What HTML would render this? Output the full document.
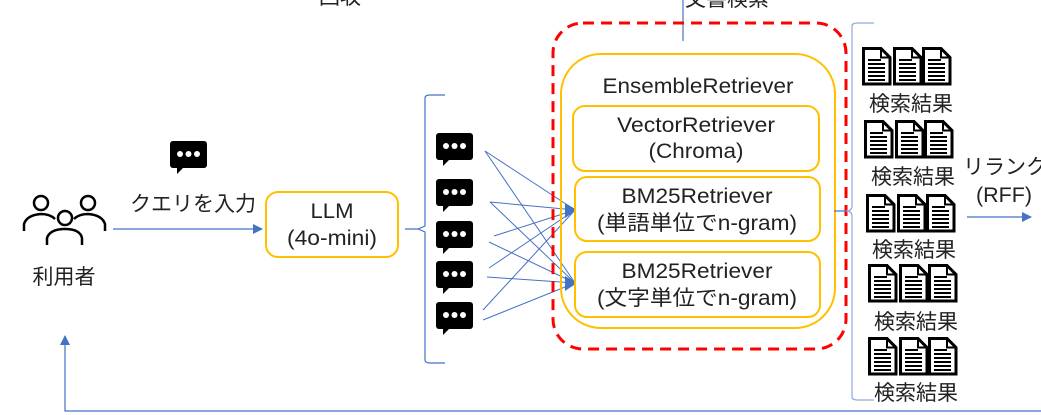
<!DOCTYPE html>
<html><head><meta charset="utf-8"><style>
html,body{margin:0;padding:0;background:#fff;}
svg{display:block;}
text{font-family:"Liberation Sans","Noto Sans CJK JP",sans-serif;fill:#222;}
</style></head><body>
<svg width="1041" height="415" viewBox="0 0 1041 415" xmlns="http://www.w3.org/2000/svg">
<defs>
<g id="chat">
<rect x="0" y="0" width="37" height="27" rx="3" fill="#000"/>
<polygon points="7,26 14,26 7,33" fill="#000"/>
<circle cx="10" cy="13" r="3" fill="#fff"/><circle cx="18.5" cy="13" r="3" fill="#fff"/><circle cx="27" cy="13" r="3" fill="#fff"/>
</g>
<g id="page">
<path d="M1.5,1.5 H19 L28,10.5 V37 H1.5 Z" fill="#fff" stroke="#000" stroke-width="3"/>
<path d="M19,1.5 V10.5 H28" fill="none" stroke="#000" stroke-width="2"/>
<path d="M6,13h13M6,17h17M6,21h17M6,25h17M6,29h17M6,33h17" stroke="#000" stroke-width="2"/>
</g>
<g id="docs"><use href="#page" x="0"/><use href="#page" x="31"/><use href="#page" x="60"/></g>
<marker id="ah" markerWidth="10" markerHeight="10" refX="9" refY="5" orient="auto" markerUnits="userSpaceOnUse"><polygon points="0,0 10,5 0,10" fill="#4472C4"/></marker>
</defs>

<text x="340" y="4" font-size="21" text-anchor="middle">回収</text>
<text x="727" y="6" font-size="21" text-anchor="middle">文書検索</text>
<line x1="683" y1="0" x2="683" y2="41" stroke="#4472C4" stroke-width="1.2"/>

<g fill="none" stroke="#000" stroke-width="2.5">
<circle cx="41" cy="203" r="7"/><circle cx="88" cy="203" r="7"/><circle cx="65" cy="218" r="7"/>
<path d="M24,231 V224 Q27,215 41,214 Q50,214 55,219"/>
<path d="M105,231 V224 Q102,215 88,214 Q79,214 74,219"/>
<path d="M47,245 V238 Q50,229 65,229 Q80,229 82,238 V245"/>
</g>
<text x="64" y="284" font-size="21" text-anchor="middle">利用者</text>

<use href="#chat" x="170" y="141"/>
<text x="193" y="211" font-size="21" text-anchor="middle">クエリを入力</text>
<line x1="113" y1="229" x2="262" y2="229" stroke="#4472C4" stroke-width="1.2" marker-end="url(#ah)"/>

<rect x="266" y="192" width="132" height="65" rx="12" fill="#fff" stroke="#FFC000" stroke-width="2"/>
<text x="332" y="218" font-size="21" text-anchor="middle" textLength="43" lengthAdjust="spacingAndGlyphs">LLM</text>
<text x="332" y="245" font-size="21" text-anchor="middle" textLength="90" lengthAdjust="spacingAndGlyphs">(4o-mini)</text>

<path d="M405,229 H418 L425,226 V98 Q425,95 430,95 H445 M418,229 L425,232 V360 Q425,363 430,363 H445" fill="none" stroke="#4472C4" stroke-width="1.2"/>

<use href="#chat" x="436" y="133"/>
<use href="#chat" x="436" y="179"/>
<use href="#chat" x="436" y="221"/>
<use href="#chat" x="436" y="261"/>
<use href="#chat" x="436" y="302"/>

<g stroke="#4472C4" stroke-width="1" fill="none">
<line x1="485" y1="151" x2="575" y2="210"/><line x1="485" y1="151" x2="575" y2="283"/>
<line x1="490" y1="202" x2="575" y2="210"/><line x1="490" y1="202" x2="575" y2="283"/>
<line x1="494" y1="236" x2="575" y2="210"/><line x1="489" y1="242" x2="575" y2="283"/>
<line x1="489" y1="268" x2="575" y2="210"/><line x1="487" y1="277" x2="575" y2="283"/>
<line x1="483" y1="310" x2="575" y2="210"/><line x1="483" y1="320" x2="575" y2="283"/>
</g>
<polygon points="565,203 577,210 565,218" fill="#4472C4"/>
<polygon points="565,276 577,283 565,291" fill="#4472C4"/>

<rect x="553" y="23" width="293" height="326" rx="30" fill="none" stroke="#FF0000" stroke-width="3" stroke-dasharray="11,7"/>
<rect x="561" y="54" width="274" height="274" rx="40" fill="none" stroke="#FFC000" stroke-width="2"/>
<text x="698" y="93" font-size="21" text-anchor="middle" textLength="191" lengthAdjust="spacingAndGlyphs">EnsembleRetriever</text>
<rect x="573" y="106" width="246" height="65" rx="12" fill="#fff" stroke="#FFC000" stroke-width="2"/>
<text x="696" y="132" font-size="21" text-anchor="middle" textLength="158" lengthAdjust="spacingAndGlyphs">VectorRetriever</text>
<text x="696" y="158" font-size="21" text-anchor="middle" textLength="95" lengthAdjust="spacingAndGlyphs">(Chroma)</text>
<rect x="575" y="177" width="245" height="64" rx="12" fill="#fff" stroke="#FFC000" stroke-width="2"/>
<text x="697" y="203" font-size="21" text-anchor="middle" textLength="151" lengthAdjust="spacingAndGlyphs">BM25Retriever</text>
<text x="697" y="230" font-size="21" text-anchor="middle" textLength="200" lengthAdjust="spacingAndGlyphs">(単語単位でn-gram)</text>
<rect x="575" y="252" width="245" height="65" rx="12" fill="#fff" stroke="#FFC000" stroke-width="2"/>
<text x="697" y="278" font-size="21" text-anchor="middle" textLength="151" lengthAdjust="spacingAndGlyphs">BM25Retriever</text>
<text x="697" y="305" font-size="21" text-anchor="middle" textLength="200" lengthAdjust="spacingAndGlyphs">(文字単位でn-gram)</text>

<line x1="834" y1="211" x2="847" y2="211" stroke="#4472C4" stroke-width="1.2"/>
<path d="M846,211 Q852,211 852,206 V26 Q852,23 858,23 H874 M846,211 Q852,211 852,216 V397 Q852,400 858,400 H874" fill="none" stroke="#8FAADC" stroke-width="1.2"/>

<use href="#docs" x="862" y="47"/>
<use href="#docs" x="864" y="120"/>
<use href="#docs" x="866" y="194"/>
<use href="#docs" x="868" y="264"/>
<use href="#docs" x="868" y="337"/>
<text x="911" y="111" font-size="21" text-anchor="middle">検索結果</text>
<text x="913" y="184" font-size="21" text-anchor="middle">検索結果</text>
<text x="914" y="257" font-size="21" text-anchor="middle">検索結果</text>
<text x="916" y="329" font-size="21" text-anchor="middle">検索結果</text>
<text x="916" y="400" font-size="21" text-anchor="middle">検索結果</text>

<text x="963" y="174" font-size="21">リランク</text>
<text x="1004" y="202" font-size="21" text-anchor="middle" textLength="56" lengthAdjust="spacingAndGlyphs">(RFF)</text>
<line x1="967" y1="217" x2="1031" y2="217" stroke="#4472C4" stroke-width="1.2" marker-end="url(#ah)"/>

<polyline points="1041,411 65,411 65,336" fill="none" stroke="#4472C4" stroke-width="1.2" marker-end="url(#ah)"/>
</svg>
</body></html>
